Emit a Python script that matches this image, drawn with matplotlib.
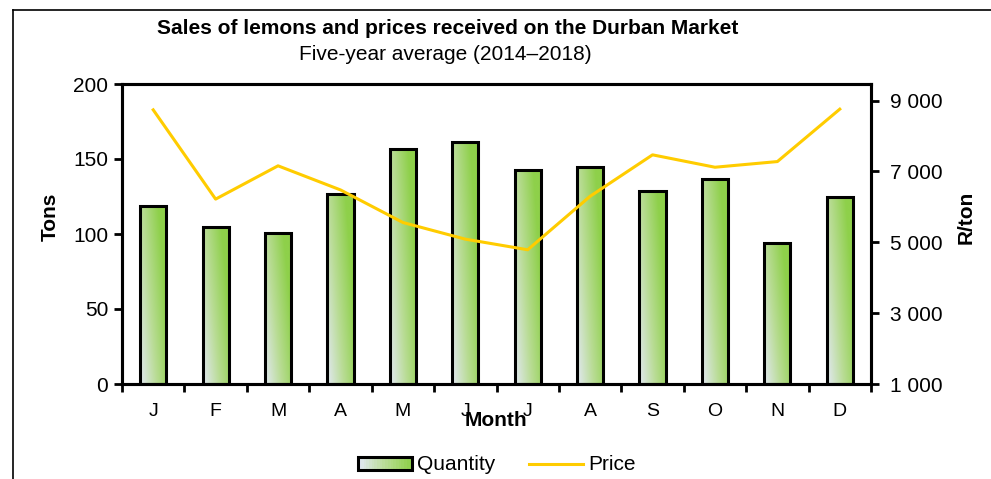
import matplotlib
matplotlib.use("Agg")
import matplotlib.pyplot as plt
import numpy as np
from matplotlib.colors import LinearSegmentedColormap
from matplotlib.legend_handler import HandlerBase
from matplotlib.lines import Line2D
from matplotlib.patches import Rectangle
from matplotlib.ticker import FuncFormatter

plt.rcParams["font.family"] = ["Liberation Sans", "DejaVu Sans"]

months = ["J", "F", "M", "A", "M", "J", "J", "A", "S", "O", "N", "D"]
quantity = [118.5, 104.5, 100.5, 127, 156.5, 161.5, 143, 144.5, 129, 137, 94, 125]
price = [8740, 6220, 7160, 6480, 5560, 5090, 4790, 6300, 7470, 7120, 7280, 8760]

title = "Sales of lemons and prices received on the Durban Market"
subtitle = "Five-year average (2014\u20132018)"

green_cmap = LinearSegmentedColormap.from_list("lemon", ["#e2e8f2", "#b9dc95", "#8ed04a"])
line_color = "#ffcc00"
fs = 15


class GradientHandler(HandlerBase):
    """Legend key drawn as a strip of coloured slices with a black outline."""

    def create_artists(self, legend, orig_handle, xdescent, ydescent,
                       width, height, fontsize, trans):
        artists = []
        n = 20
        for i in range(n):
            r = Rectangle((-xdescent + width * i / n, -ydescent), width / n + 0.3, height,
                          facecolor=green_cmap(i / (n - 1)), edgecolor="none",
                          transform=trans)
            artists.append(r)
        artists.append(Rectangle((-xdescent, -ydescent), width, height,
                                 facecolor="none", edgecolor="black", lw=2.2,
                                 transform=trans))
        return artists


fig = plt.figure(figsize=(9.91, 4.79), dpi=100)
ax = fig.add_axes([122 / 991, 1 - 384 / 479, 749 / 991, 300 / 479])

x = np.arange(len(months))
bars = ax.bar(x, quantity, width=0.42, facecolor="none", edgecolor="black",
              linewidth=2.2, zorder=3)

# diagonal gradient fill inside each bar
gx, gy = np.meshgrid(np.linspace(0, 1, 60), np.linspace(0, 1, 200))
grad = np.clip(0.8 * gx + 0.45 * gy, 0, 1)
for b in bars:
    x0, y0 = b.get_x(), b.get_y()
    im = ax.imshow(grad, cmap=green_cmap, origin="lower", aspect="auto",
                   extent=[x0, x0 + b.get_width(), y0, y0 + b.get_height()],
                   zorder=2, vmin=0, vmax=1)
    im.set_clip_path(b)

ax.set_xlim(-0.5, 11.5)
ax.set_ylim(0, 200)
ax.set_yticks([0, 50, 100, 150, 200])
ax.set_xticks(np.arange(-0.5, 12, 1))
ax.set_xticklabels([])
ax.set_xticks(x, minor=True)
ax.set_xticklabels(months, minor=True)
ax.tick_params(axis="x", which="major", length=6, width=2, direction="out")
ax.tick_params(axis="x", which="minor", length=0, pad=14, labelsize=14)
ax.tick_params(axis="y", length=6, width=2, direction="out", labelsize=fs, pad=4)
for s in ax.spines.values():
    s.set_linewidth(2.2)

ax2 = ax.twinx()
ax2.plot(x, price, color=line_color, linewidth=2.2, zorder=4)
ax2.set_ylim(1000, 9470)
ax2.set_yticks([1000, 3000, 5000, 7000, 9000])
ax2.yaxis.set_major_formatter(FuncFormatter(lambda v, p: f"{int(v):,}".replace(",", " ")))
ax2.tick_params(axis="y", length=6, width=2, direction="out", labelsize=fs, pad=8)
for s in ax2.spines.values():
    s.set_linewidth(2.2)

fig.text(448 / 991, 1 - 28 / 479, title, ha="center", va="center",
         fontsize=fs, fontweight="bold")
fig.text(445 / 991, 1 - 55 / 479, subtitle, ha="center", va="center", fontsize=fs)
fig.text(50 / 991, 1 - 217 / 479, "Tons", rotation=90, ha="center", va="center",
         fontsize=fs, fontweight="bold")
fig.text(966 / 991, 1 - 217 / 479, "R/ton", rotation=90, ha="center", va="center",
         fontsize=fs, fontweight="bold")
fig.text(496 / 991, 1 - 420 / 479, "Month", ha="center", va="center",
         fontsize=fs, fontweight="bold")

qty_handle = Rectangle((0, 0), 1, 1)
price_handle = Line2D([], [], color=line_color, linewidth=2.2)
fig.legend([qty_handle, price_handle], ["Quantity", "Price"],
           handler_map={Rectangle: GradientHandler()},
           loc="center", bbox_to_anchor=(497 / 991, 1 - 465 / 479), ncol=2,
           frameon=False, fontsize=fs, handlelength=2.6, handleheight=0.6,
           handletextpad=0.25, columnspacing=1.6)

# outer chart frame (partly cut by the image edge)
fig.add_artist(Line2D([13 / 991, 13 / 991], [0, 1 - 10 / 479], color="black",
                      linewidth=1.2, transform=fig.transFigure))
fig.add_artist(Line2D([13 / 991, 1], [1 - 10 / 479, 1 - 10 / 479], color="black",
                      linewidth=1.2, transform=fig.transFigure))

fig.savefig("out.png", dpi=100)
